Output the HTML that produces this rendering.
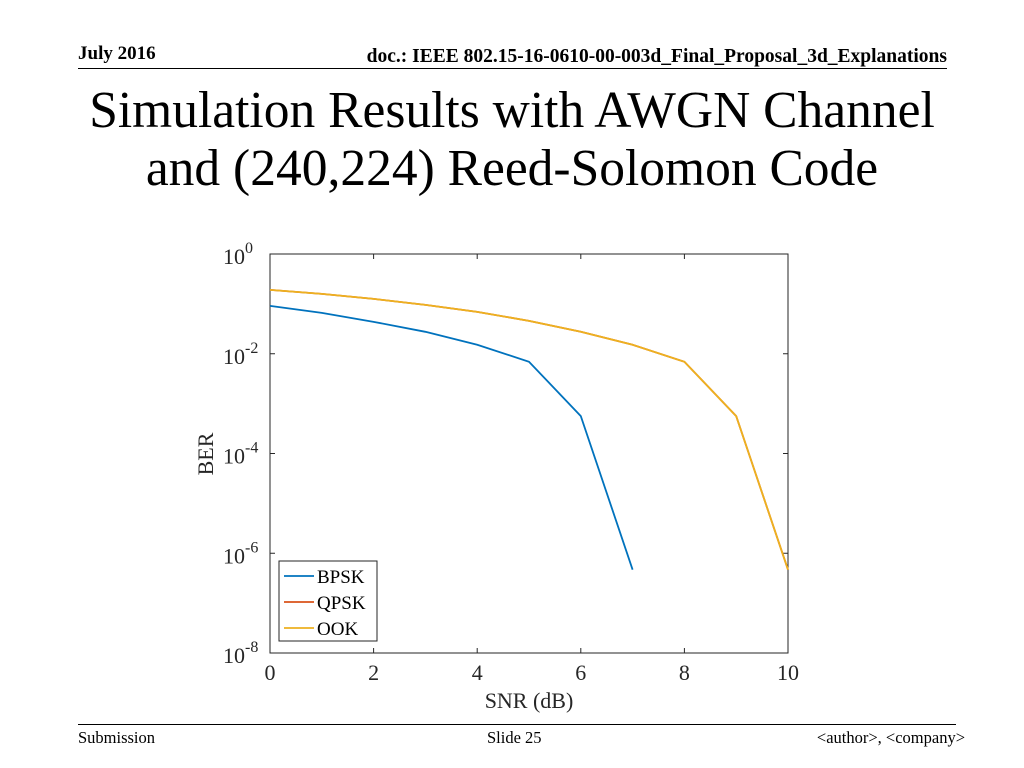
<!DOCTYPE html>
<html><head><meta charset="utf-8"><style>
body{margin:0;width:1024px;height:768px;background:#fff;font-family:"Liberation Serif",serif;position:relative;overflow:hidden}
.a{position:absolute;white-space:nowrap}
</style></head><body>
<div class="a" style="left:78px;top:43px;font-size:19px;font-weight:bold">July 2016</div>
<div class="a" style="right:77px;top:46px;font-size:19.5px;font-weight:bold;transform-origin:right;transform:scaleX(1.0)">doc.: IEEE 802.15-16-0610-00-003d_Final_Proposal_3d_Explanations</div>
<div class="a" style="left:78px;top:68px;width:869px;height:1px;background:#000"></div>
<div class="a" style="left:0;width:1024px;top:82px;text-align:center;font-size:51.5px;line-height:58px">Simulation Results with AWGN Channel<br>and (240,224) Reed-Solomon Code</div>
<svg class="a" style="left:0;top:0" width="1024" height="768">
<g id="g" font-family="Liberation Serif, serif" font-size="22"></g>
</svg>
<div class="a" style="left:78px;top:724px;width:878px;height:1px;background:#000"></div>
<div class="a" style="left:78px;top:728px;font-size:16.5px">Submission</div>
<div class="a" style="left:487px;top:728px;font-size:16.5px">Slide 25</div>
<div class="a" style="right:59px;top:728px;font-size:16.5px">&lt;author&gt;, &lt;company&gt;</div>
<script>
const snr=[0,1,2,3,4,5,6,7,8,9,10];
const bpskLog=[-1.04,-1.18,-1.36,-1.56,-1.82,-2.16,-3.25,-6.33];
const qpskLog=[-0.72,-0.8,-0.9,-1.02,-1.16,-1.34,-1.56,-1.82,-2.16,-3.25,-6.33];
const ookLog=[-0.72,-0.8,-0.9,-1.02,-1.16,-1.34,-1.56,-1.82,-2.16,-3.25,-6.33];
const xTicks=[0,2,4,6,8,10];
const yTicks=[0,-2,-4,-6,-8];
const L=270,R=788,T=254,B=653;
const X=v=>L+(v-0)/10*(R-L), Y=v=>T+(0-v)/8*(B-T);
const g=document.getElementById('g');const NS='http://www.w3.org/2000/svg';
function el(t,a,p){const e=document.createElementNS(NS,t);for(const k in a)e.setAttribute(k,a[k]);(p||g).appendChild(e);return e;}
const box=el('rect',{x:L,y:T,width:R-L,height:B-T,fill:'#fff',stroke:'#262626','stroke-width':1});


xTicks.forEach(v=>{const x=X(v);
el('line',{x1:x,x2:x,y1:B,y2:B-5,stroke:'#262626'});el('line',{x1:x,x2:x,y1:T,y2:T+5,stroke:'#262626'});
const t=el('text',{x:x,y:B+27,'text-anchor':'middle',fill:'#262626'});t.textContent=v;

});
yTicks.forEach(v=>{const y=Y(v);
el('line',{x1:L,x2:L+5,y1:y,y2:y,stroke:'#262626'});el('line',{x1:R,x2:R-5,y1:y,y2:y,stroke:'#262626'});
const t=el('text',{x:223,y:y+10,fill:'#262626'});t.textContent='10';
const s=el('tspan',{dy:-11,'font-size':16},t);s.textContent=v;

});
const xt=el('text',{x:(L+R)/2,y:708,'text-anchor':'middle',fill:'#262626'});xt.textContent='SNR (dB)';


const yt=el('text',{x:0,y:0,'text-anchor':'middle',fill:'#262626',transform:'translate(213,454) rotate(-90)'});yt.textContent='BER';


const series=[['bpsk',bpskLog,'#0072BD'],['qpsk',qpskLog,'#D95319'],['ook',ookLog,'#EDB120']];
series.forEach(([n,d,c])=>{const p=el('polyline',{points:d.map((v,i)=>X(snr[i])+','+Y(v)).join(' '),fill:'none',stroke:c,'stroke-width':1.8});

});
const lg=el('rect',{x:279,y:561,width:98,height:80,fill:'#fff',stroke:'#262626'});


['BPSK','QPSK','OOK'].forEach((n,i)=>{const y=576+i*26;
el('line',{x1:284,x2:314,y1:y,y2:y,stroke:series[i][2],'stroke-width':1.8});
const t=el('text',{x:317,y:y+7,'font-size':19,fill:'#000'});t.textContent=n;

});
</script>
</body></html>
